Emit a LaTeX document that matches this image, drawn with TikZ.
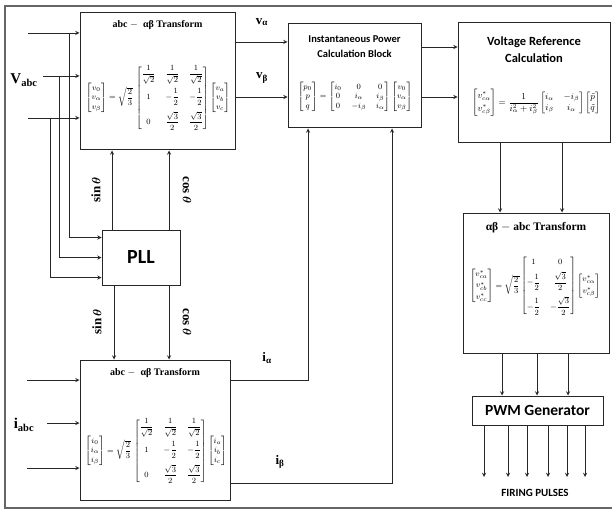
\documentclass[tikz,border=0pt]{standalone}
\usepackage{amsmath,amssymb}
\usepackage{fontspec}
\setmainfont{Carlito}
\newfontfamily\serifbf{Liberation Serif}
\usetikzlibrary{positioning}
\usetikzlibrary{arrows}
\usetikzlibrary{calc}
\tikzset{>=stealth}
\tikzset{blk/.style={draw=black!85, line width=1pt, inner sep=0pt},
  wire/.style={line width=0.9pt, black!85},
  ttl/.style={font=\bfseries\fontsize{10.5}{12.5}\selectfont, align=center, inner sep=0pt},
  sttl/.style={font=\serifbf\bfseries\fontsize{10}{12}\selectfont, inner sep=0pt},
  sig/.style={font=\serifbf\bfseries\fontsize{13}{15}\selectfont, inner sep=0pt}}
% Clarke matrix, #1 = quantity
\newcommand{\clarkemat}[1]{\begin{bmatrix}#1_0\\#1_\alpha\\#1_\beta\end{bmatrix}
  =\sqrt{\dfrac{2}{3}}\,\renewcommand{\arraystretch}{1.2}
  \begin{bmatrix}\dfrac{1}{\sqrt{2}}&\dfrac{1}{\sqrt{2}}&\dfrac{1}{\sqrt{2}}\\[9pt]
  1&-\dfrac{1}{2}&-\dfrac{1}{2}\\[9pt]0&\dfrac{\sqrt{3}}{2}&\dfrac{\sqrt{3}}{2}\end{bmatrix}
  \renewcommand{\arraystretch}{1}\begin{bmatrix}#1_a\\#1_b\\#1_c\end{bmatrix}}

\begin{document}
\begin{tikzpicture}[x=1pt, y=1pt]
\useasboundingbox (0,0) rectangle (612,512);
\draw[black!60, line width=1.3pt] (614,506) -- (5,506) -- (5,4) -- (614,4);

% blocks
\node[blk, minimum width=155pt, minimum height=137pt] (tv) at (157.5,430.5) {};
\node[blk, minimum width=78pt, minimum height=55pt, font=\bfseries\fontsize{20}{22}\selectfont] (pll) at (141,254.5) {PLL};
\node[blk, minimum width=150pt, minimum height=140pt] (ti) at (155,82) {};
\node[blk, minimum width=133pt, minimum height=104pt] (pw) at (354.5,436) {};
\node[blk, minimum width=152pt, minimum height=120pt] (vr) at (534,429) {};
\node[blk, minimum width=146pt, minimum height=140pt] (ab) at (536,229) {};
\node[blk, minimum width=131pt, minimum height=29pt, font=\bfseries\fontsize{15.5}{17}\selectfont] (pwm) at (537.5,101.5) {PWM Generator};

% block contents
\node[sttl] (tvt) at (157.5,487) {abc $-$\; αβ Transform};
\node[inner sep=0pt, font=\footnotesize] (tveq) at (158,414) {$\clarkemat{v}$};
\node[sttl] (tit) at (155,139) {abc $-$\; αβ Transform};
\node[inner sep=0pt, font=\footnotesize] (tieq) at (156,61) {$\clarkemat{i}$};
\node[ttl] (pwt) at (354.5,465.5) {Instantaneous Power\\[3pt]Calculation Block};
\node[inner sep=0pt, font=\footnotesize] (pweq) at (355,415) {$\begin{bmatrix}p_0\\p\\q\end{bmatrix}
  =\begin{bmatrix}i_0&0&0\\0&i_\alpha&i_\beta\\0&-i_\beta&i_\alpha\end{bmatrix}
  \begin{bmatrix}v_0\\v_\alpha\\v_\beta\end{bmatrix}$};
\node[ttl, font=\bfseries\fontsize{12.5}{15}\selectfont] (vrt) at (534,462) {Voltage Reference\\[2pt]Calculation};
\node[inner sep=0pt, font=\small] (vreq) at (536,409) {$\begin{bmatrix}v^{*}_{c\alpha}\\[2pt]v^{*}_{c\beta}\end{bmatrix}
  =\dfrac{1}{i_\alpha^2+i_\beta^2}\begin{bmatrix}i_\alpha&-i_\beta\\i_\beta&i_\alpha\end{bmatrix}
  \begin{bmatrix}\tilde p\\\tilde q\end{bmatrix}$};
\node[sttl, font=\serifbf\bfseries\fontsize{11.5}{13}\selectfont] (abt) at (536,284) {αβ $-$ abc Transform};
\node[inner sep=0pt, font=\footnotesize] (abeq) at (535,226) {$\begin{bmatrix}v^{*}_{ca}\\[2pt]v^{*}_{cb}\\[2pt]v^{*}_{cc}\end{bmatrix}
  =\sqrt{\dfrac{2}{3}}\renewcommand{\arraystretch}{1.2}
  \begin{bmatrix}1&0\\[4pt]-\dfrac{1}{2}&\dfrac{\sqrt{3}}{2}\\[8pt]-\dfrac{1}{2}&-\dfrac{\sqrt{3}}{2}\end{bmatrix}
  \renewcommand{\arraystretch}{1}\begin{bmatrix}v^{*}_{c\alpha}\\[2pt]v^{*}_{c\beta}\end{bmatrix}$};

% inputs
\node[sig, font=\serifbf\bfseries\fontsize{15}{17}\selectfont] (vabc) at (24,432) {V\textsubscript{abc}};
\node[sig, font=\serifbf\bfseries\fontsize{15}{17}\selectfont] (iabc) at (24,87) {i\textsubscript{abc}};
\coordinate (va) at (28,479);
\coordinate (vb) at (43,436);
\coordinate (vc) at (28,394);
\foreach \p in {va,vb,vc}
  \draw[wire,->] (\p) -- (\p -| tv.west);
\draw[wire,->] (69,479) |- ([yshift=20pt]pll.west);
\draw[wire,->] (59,436) |- (pll.west);
\draw[wire,->] (50,394) |- ([yshift=-20pt]pll.west);
\coordinate (ia) at (27,132);
\coordinate (ib) at (47,89);
\coordinate (ic) at (27,44);
\foreach \p in {ia,ib,ic}
  \draw[wire,->] (\p) -- (\p -| ti.west);

% PLL outputs
\draw[wire,->] ([xshift=-29pt]pll.north) -- ([xshift=-29pt]pll.north |- tv.south);
\draw[wire,->] ([xshift=28pt]pll.north) -- ([xshift=28pt]pll.north |- tv.south);
\draw[wire,->] ([xshift=-27pt]pll.south) -- ([xshift=-27pt]pll.south |- ti.north);
\draw[wire,->] ([xshift=28pt]pll.south) -- ([xshift=28pt]pll.south |- ti.north);
\node[sig, rotate=90] (s1) at (96,322) {sin\,$\boldsymbol{\theta}$};
\node[sig, rotate=-90] (c1) at (187,322) {cos\,$\boldsymbol{\theta}$};
\node[sig, rotate=90] (s2) at (97,190) {sin\,$\boldsymbol{\theta}$};
\node[sig, rotate=-90] (c2) at (187,190) {cos\,$\boldsymbol{\theta}$};

% to power block
\draw[wire,->] ([yshift=39.5pt]tv.east) -- ([yshift=39.5pt]tv.east -| pw.west);
\draw[wire,->] ([yshift=-15.5pt]tv.east) -- ([yshift=-15.5pt]tv.east -| pw.west);
\node[sig] (lva) at (262,490) {v\textsubscript{α}};
\node[sig] (lvb) at (262,434) {v\textsubscript{β}};
\draw[wire,->] ([yshift=50pt]ti.east) -| ([xshift=-46.5pt]pw.south);
\draw[wire,->] ([yshift=-53pt]ti.east) -| ([xshift=37.5pt]pw.south);
\node[sig] (lia) at (267,154) {i\textsubscript{α}};
\node[sig] (lib) at (280,50) {i\textsubscript{β}};

% right column
\draw[wire,->] ([yshift=29pt]pw.east) -- ([yshift=29pt]pw.east -| vr.west);
\draw[wire,->] ([yshift=-21pt]pw.east) -- ([yshift=-21pt]pw.east -| vr.west);
\draw[wire,->] ([xshift=-34pt]vr.south) -- ([xshift=-34pt]vr.south |- ab.north);
\draw[wire,->] ([xshift=28pt]vr.south) -- ([xshift=28pt]vr.south |- ab.north);
\foreach \dx in {-34,1,32}
  \draw[wire,->] ([xshift=\dx pt]ab.south) -- ([xshift=\dx pt]ab.south |- pwm.north);
\foreach \x in {484,508,527,548,567,585}
  \draw[wire,->] (pwm.south -| \x,0) -- (\x,35);
\node[ttl, font=\bfseries\fontsize{11}{13}\selectfont] (fire) at (535,19) {FIRING PULSES};
\end{tikzpicture}
\end{document}
